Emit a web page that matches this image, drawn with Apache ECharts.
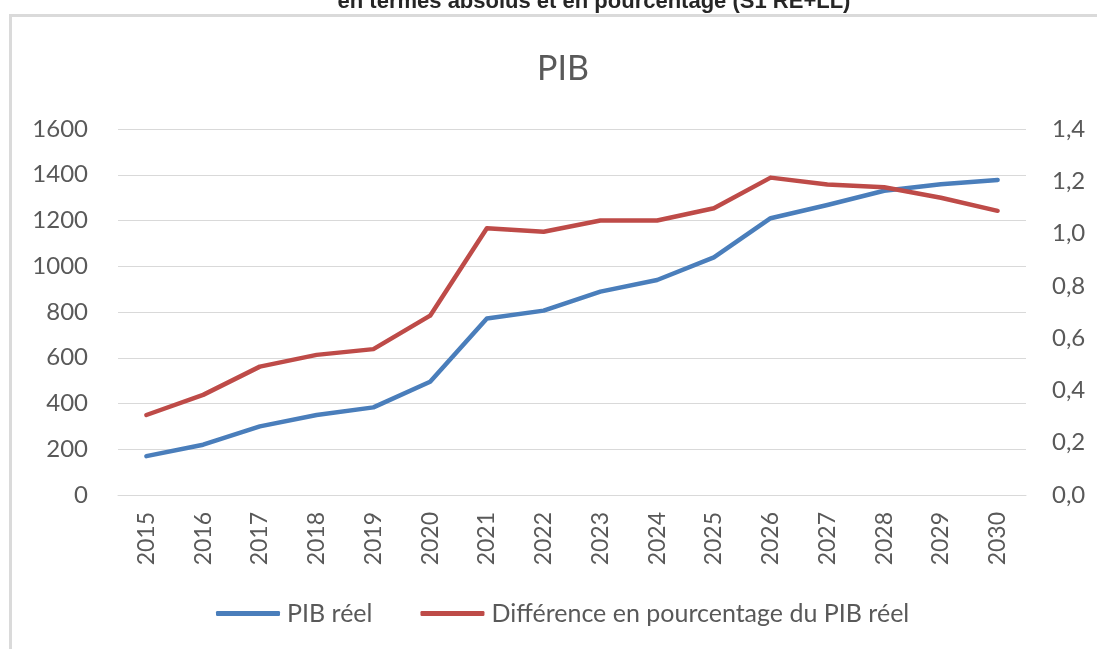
<!DOCTYPE html>
<html>
<head>
<meta charset="utf-8">
<title>PIB</title>
<script src="https://cdn.jsdelivr.net/npm/echarts@6/dist/echarts.min.js"></script>
<style>
  html, body { margin: 0; padding: 0; background: #ffffff; }
  #chart { width: 1097px; height: 649px; }
</style>
</head>
<body>
<div id="chart"></div>
<script>
// Years on the category axis
const years = ['2015', '2016', '2017', '2018', '2019', '2020', '2021', '2022',
               '2023', '2024', '2025', '2026', '2027', '2028', '2029', '2030'];

// Real GDP, absolute level (left axis)
const pibReel = [170, 220, 300, 350, 383, 495, 772, 806, 889, 940, 1039, 1210, 1268, 1330, 1358, 1377];

// Percentage difference of real GDP (right axis)
const diffPourcentage = [0.306, 0.383, 0.491, 0.536, 0.558, 0.686, 1.020, 1.007,
                         1.050, 1.050, 1.097, 1.214, 1.188, 1.177, 1.137, 1.087];

const seriesNames = ['PIB réel', 'Différence en pourcentage du PIB réel'];
const headerText = 'en termes absolus et en pourcentage (S1 RE+LL)';
const chartTitle = 'PIB';

const textColor = '#595959';
const gridColor = '#d9d9d9';
const baseFont = 'Lato, "Open Sans", sans-serif';

const chart = echarts.init(document.getElementById('chart'), null, { renderer: 'canvas' });

chart.setOption({
  backgroundColor: '#ffffff',
  animation: false,
  title: {
    text: chartTitle,
    left: 558,
    textAlign: 'center',
    top: 47,
    textStyle: { fontFamily: baseFont, fontSize: 34, fontWeight: 'normal', color: textColor }
  },
  graphic: [
    {
      type: 'rect',
      silent: true,
      shape: { x: 10.5, y: 15.5, width: 1200, height: 800 },
      style: { fill: 'none', stroke: '#dadada', lineWidth: 3 }
    },
    {
      type: 'text',
      silent: true,
      x: 594,
      y: 13,
      style: {
        text: headerText,
        align: 'center',
        verticalAlign: 'bottom',
        fontFamily: '"Liberation Sans Narrow", "Liberation Sans", sans-serif',
        fontWeight: 'bold',
        fontSize: 22,
        fill: '#262626'
      }
    }
  ],
  legend: {
    left: 211,
    top: 596,
    itemWidth: 64,
    itemHeight: 5,
    itemGap: 48,
    icon: 'roundRect',
    textStyle: { fontFamily: baseFont, fontSize: 25, color: textColor, padding: [0, 0, 0, 2] },
    data: seriesNames
  },
  grid: { left: 118, right: 71, top: 129, bottom: 154 },
  xAxis: {
    type: 'category',
    data: years,
    boundaryGap: true,
    axisLine: { show: true, lineStyle: { color: gridColor, width: 1 } },
    axisTick: { show: false },
    axisLabel: {
      rotate: 90,
      margin: 17,
      fontFamily: baseFont,
      fontSize: 23,
      color: textColor
    }
  },
  yAxis: [
    {
      type: 'value',
      min: 0,
      max: 1600,
      interval: 200,
      axisLine: { show: false },
      axisTick: { show: false },
      splitLine: { show: true, lineStyle: { color: gridColor, width: 1 } },
      axisLabel: {
        margin: 30,
        fontFamily: baseFont,
        fontSize: 24,
        color: textColor,
        formatter: v => String(v)
      }
    },
    {
      type: 'value',
      min: 0,
      max: 1.4,
      interval: 0.2,
      position: 'right',
      axisLine: { show: false },
      axisTick: { show: false },
      splitLine: { show: false },
      axisLabel: {
        margin: 26,
        fontFamily: baseFont,
        fontSize: 24,
        color: textColor,
        formatter: v => v.toFixed(1).replace('.', ',')
      }
    }
  ],
  series: [
    {
      name: seriesNames[0],
      type: 'line',
      yAxisIndex: 0,
      data: pibReel,
      symbol: 'none',
      itemStyle: { color: '#4a7ebb' },
      lineStyle: { color: '#4a7ebb', width: 4.5, cap: 'round', join: 'round' }
    },
    {
      name: seriesNames[1],
      type: 'line',
      yAxisIndex: 1,
      data: diffPourcentage,
      symbol: 'none',
      itemStyle: { color: '#be4b48' },
      lineStyle: { color: '#be4b48', width: 4.5, cap: 'round', join: 'round' }
    }
  ]
});
</script>
</body>
</html>
